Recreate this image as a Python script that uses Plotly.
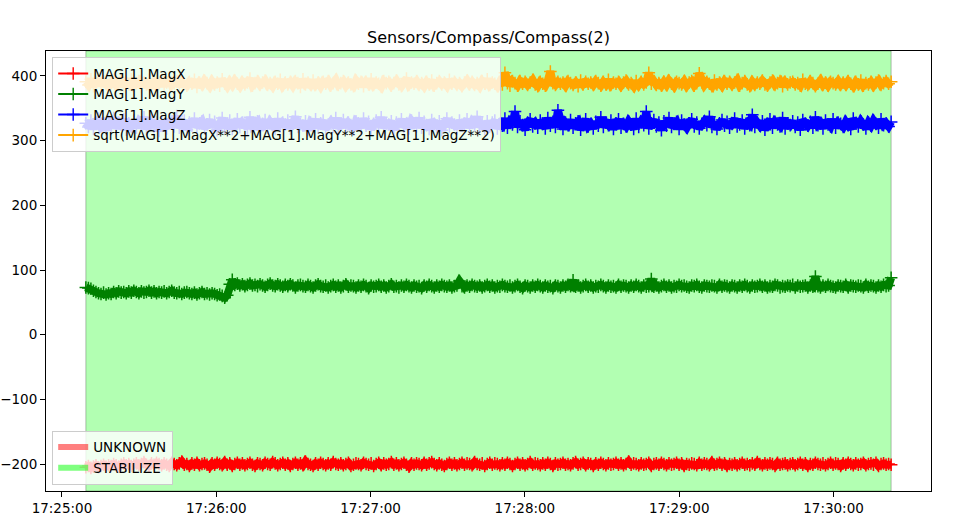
import pandas as pd
import plotly.graph_objects as go

title = "Sensors/Compass/Compass(2)"
series_names = ["MAG[1].MagX", "MAG[1].MagY", "MAG[1].MagZ",
                "sqrt(MAG[1].MagX**2+MAG[1].MagY**2+MAG[1].MagZ**2)"]
mode_names = ["UNKNOWN", "STABILIZE"]

t_start = "2024-01-01 17:25:09.3"
t_end = "2024-01-01 17:30:22.4"
n_samples = 320
times = pd.date_range(t_start, t_end, periods=n_samples)

mag_x = [
    -205,-203,-206,-204,-202,-205,-203,-201,-204,-202,
    -203,-200,-202,-204,-201,-199,-202,-200,-203,-201,
    -199,-202,-200,-197,-201,-203,-199,-201,-198,-200,
    -202,-199,-201,-203,-198,-200,-202,-199,-196,-201,
    -200,-203,-199,-201,-198,-202,-200,-199,-201,-204,
    -199,-201,-198,-200,-202,-197,-201,-199,-203,-200,
    -198,-201,-199,-202,-200,-198,-201,-203,-199,-200,
    -202,-198,-200,-201,-197,-199,-202,-200,-198,-201,
    -199,-203,-200,-198,-201,-199,-202,-196,-200,-201,
    -203,-199,-201,-198,-200,-202,-199,-201,-197,-200,
    -201,-199,-202,-200,-198,-203,-201,-199,-200,-202,
    -198,-200,-201,-199,-203,-200,-198,-202,-199,-201,
    -200,-197,-201,-199,-202,-200,-198,-201,-204,-199,
    -201,-199,-200,-202,-198,-201,-199,-197,-200,-202,
    -199,-201,-203,-200,-198,-201,-199,-202,-200,-198,
    -201,-199,-200,-202,-197,-200,-201,-199,-203,-200,
    -198,-201,-199,-200,-202,-199,-201,-198,-200,-203,
    -200,-198,-201,-199,-202,-200,-197,-201,-199,-200,
    -202,-199,-201,-198,-200,-203,-199,-201,-200,-198,
    -201,-200,-202,-199,-197,-201,-200,-198,-202,-199,
    -200,-203,-199,-201,-198,-200,-202,-199,-201,-200,
    -198,-201,-199,-202,-200,-196,-201,-199,-200,-202,
    -199,-201,-200,-198,-203,-200,-199,-201,-198,-200,
    -202,-199,-201,-200,-198,-201,-199,-203,-200,-201,
    -199,-200,-202,-198,-201,-199,-200,-202,-197,-201,
    -200,-198,-201,-199,-203,-200,-201,-199,-202,-200,
    -198,-201,-200,-202,-199,-201,-197,-200,-202,-199,
    -201,-199,-200,-203,-198,-201,-200,-199,-202,-200,
    -199,-202,-200,-198,-201,-199,-203,-200,-201,-198,
    -200,-201,-199,-202,-200,-198,-201,-199,-200,-203,
    -199,-201,-198,-200,-202,-199,-201,-200,-198,-202,
    -200,-199,-201,-198,-203,-200,-199,-201,-200,-201,
]

mag_y = [
    73,72,71,68,66,64,63,65,62,64,
    63,66,64,67,65,66,64,67,65,68,
    66,64,67,65,66,68,65,67,64,66,
    65,67,64,66,68,65,64,66,63,65,
    66,64,63,65,62,64,66,63,64,62,
    64,63,61,62,60,57,61,
    78,85,77,79,76,78,75,77,79,76,
    77,75,78,76,74,77,79,76,75,78,
    76,74,77,75,78,76,73,76,77,75,
    74,77,75,73,76,78,75,74,76,73,
    75,77,74,76,73,75,78,74,76,75,
    73,76,74,77,75,72,76,74,75,77,
    74,76,73,75,78,74,75,73,76,74,
    77,75,73,76,74,75,72,76,74,77,
    75,73,76,74,77,75,74,76,73,75,
    76,83,75,73,76,74,77,75,74,76,
    73,75,77,74,76,73,75,74,77,75,
    74,76,73,75,77,74,72,76,75,73,
    76,74,77,75,73,76,74,75,72,76,
    75,73,76,74,77,75,84,74,76,73,
    75,77,74,76,73,75,74,77,75,73,
    76,74,75,73,77,74,76,75,73,76,
    74,77,75,73,76,74,75,86,74,76,
    73,75,77,74,76,73,75,74,77,75,
    76,74,73,76,75,77,74,73,76,75,
    74,76,75,73,77,74,76,75,73,76,
    75,73,76,74,77,75,73,76,74,75,
    77,74,76,73,75,74,77,76,73,75,
    74,76,75,77,73,76,74,75,76,73,
    76,74,90,75,73,76,74,77,75,74,
    73,76,75,74,77,73,76,75,74,76,
    75,73,77,74,76,75,73,76,74,77,
    75,76,88,
]

mag_z = [
    327,321,331,318,329,334,322,326,316,330,
    323,335,319,328,325,333,317,327,322,331,
    320,329,324,336,318,326,332,321,328,315,
    330,324,319,333,327,322,338,320,326,331,
    317,328,323,334,321,327,330,319,325,332,
    322,329,316,327,335,320,326,331,318,324,
    333,321,328,325,319,336,323,327,330,317,
    326,332,320,329,324,318,334,322,328,325,
    331,319,327,337,321,326,323,330,316,328,
    324,333,320,327,331,318,325,329,322,335,
    319,326,332,321,328,324,317,330,327,320,
    334,323,329,318,326,331,322,336,320,327,
    325,330,317,328,323,333,321,326,319,331,
    327,322,335,320,329,324,318,332,326,321,
    330,316,327,334,322,328,325,319,331,323,
    326,333,320,329,324,337,321,327,318,330,
    322,328,331,319,326,323,334,320,329,325,
    345,321,330,324,317,328,333,322,327,320,
    331,326,319,335,323,329,321,347,326,318,
    328,324,332,320,327,330,317,325,333,322,
    326,319,329,323,336,321,328,324,331,318,
    327,333,320,326,322,330,325,318,334,321,
    329,324,345,319,327,332,322,328,316,330,
    323,335,321,326,329,318,331,325,320,327,
    333,322,328,319,326,330,324,337,321,328,
    318,327,332,323,329,320,326,334,322,325,
    331,319,327,324,340,321,328,323,330,317,
    326,333,320,329,325,322,335,319,327,324,
    330,321,328,317,332,326,323,329,320,336,
    324,327,319,331,325,322,333,320,328,326,
    321,329,324,318,334,327,322,330,325,319,
    328,323,331,326,320,333,324,327,322,329,
]

mag_norm = [
    391,386,395,384,389,396,385,392,388,383,
    390,394,386,389,393,384,391,387,395,385,
    389,392,383,390,387,394,386,391,384,388,
    393,385,390,397,386,389,392,384,391,387,
    385,391,388,394,383,390,386,393,389,384,
    392,387,390,385,395,388,384,391,386,393,
    388,384,391,387,390,396,385,389,392,386,
    390,393,386,389,384,391,388,394,385,390,
    387,391,385,392,389,383,395,387,390,386,
    393,386,390,384,391,388,392,385,389,394,
    386,389,392,385,390,387,384,393,388,391,
    384,391,387,395,386,390,388,383,392,389,
    391,385,389,393,387,384,390,396,386,390,
    388,392,386,389,384,391,387,393,385,389,
    392,387,390,385,394,388,391,386,389,384,
    390,393,387,391,386,389,384,392,388,395,
    386,390,388,384,391,387,405,389,385,392,
    389,385,392,388,391,386,390,394,387,384,
    391,388,385,393,407,389,386,391,388,390,
    385,392,389,386,390,384,393,387,391,388,
    390,386,392,389,385,391,387,394,386,390,
    388,391,385,390,393,387,389,384,392,386,
    391,387,390,405,388,392,386,389,385,391,
    386,393,388,384,391,389,387,392,385,390,
    392,385,389,404,390,386,391,388,384,393,
    387,390,385,392,388,391,386,390,394,385,
    389,392,387,384,391,386,390,388,393,387,
    385,390,393,386,389,392,384,391,387,390,
    391,387,389,385,394,388,386,392,389,384,
    388,393,386,390,385,391,389,387,392,386,
    390,386,392,388,384,391,387,393,385,389,
    387,391,385,390,393,386,389,392,388,391,
]

series_values = [mag_x, mag_y, mag_z, mag_norm]
series_colors = ["#ff0000", "#008000", "#0000ff", "#ffa500"]

x_range = ["2024-01-01 17:24:53.8", "2024-01-01 17:30:37.9"]
y_range = [-241.7, 438.6]
y_ticks = [-200, -100, 0, 100, 200, 300, 400]
x_tick0 = "2024-01-01 17:25:00"

FONT = "DejaVu Sans"
fig = go.Figure()

# data traces (dense noisy bands)
for name, vals, col in zip(series_names, series_values, series_colors):
    fig.add_trace(go.Scatter(
        x=times, y=vals, name=name, mode="lines+markers",
        line=dict(color=col, width=8),
        marker=dict(symbol="cross-thin", size=9, line=dict(color=col, width=1.5)),
        showlegend=False,
    ))

# legend entries for the series (matplotlib-style line with '+')
for name, col in zip(series_names, series_colors):
    fig.add_trace(go.Scatter(
        x=[None], y=[None], name=name, mode="lines+markers",
        line=dict(color=col, width=2),
        marker=dict(symbol="cross-thin", size=9, line=dict(color=col, width=1.4)),
        legend="legend",
    ))

mode_colors = ["rgba(255,0,0,0.5)", "rgba(0,255,0,0.5)"]
for name, col in zip(mode_names, mode_colors):
    fig.add_trace(go.Scatter(
        x=[None], y=[None], name=name, mode="none", fill="toself",
        fillcolor=col, legend="legend2",
    ))

# STABILIZE span covering the log period
fig.add_shape(type="rect", xref="x", yref="paper",
              x0=times[0], x1=times[-1], y0=0, y1=1,
              fillcolor="rgba(0,255,0,0.3)",
              line=dict(color="rgba(0,0,0,0.25)", width=1),
              layer="below")

axis_common = dict(showgrid=False, zeroline=False, showline=True, linecolor="black",
                   linewidth=1, mirror=True, ticks="outside", ticklen=5, tickwidth=1,
                   tickcolor="black", automargin=False,
                   tickfont=dict(family=FONT, size=13.5, color="black"))

fig.update_layout(
    width=975, height=528,
    margin=dict(l=46, r=44, t=51, b=37, autoexpand=False),
    paper_bgcolor="white", plot_bgcolor="white",
    font=dict(family=FONT, size=13.5, color="black"),
    title=dict(text=title, x=0.5, xref="paper", y=1 - 37 / 528, yref="container",
               yanchor="middle", xanchor="center",
               font=dict(family=FONT, size=16, color="black")),
    xaxis=dict(type="date", range=x_range, tickformat="%H:%M:%S",
               tick0=x_tick0, dtick=60000, **axis_common),
    yaxis=dict(range=y_range, tickmode="array", tickvals=y_ticks, **axis_common),
    legend=dict(x=0.007, y=0.986, xanchor="left", yanchor="top",
                bgcolor="rgba(255,255,255,0.8)", bordercolor="#cccccc", borderwidth=1,
                font=dict(family=FONT, size=13.5, color="black"),
                tracegroupgap=0, itemwidth=30),
    legend2=dict(x=0.007, y=0.014, xanchor="left", yanchor="bottom",
                 bgcolor="rgba(255,255,255,0.8)", bordercolor="#cccccc", borderwidth=1,
                 font=dict(family=FONT, size=13.5, color="black"),
                 tracegroupgap=0, itemwidth=30),
    showlegend=True,
    hovermode=False,
)

fig.write_html("out.html", config={"displayModeBar": False},
               post_script="document.body.style.margin='0';")
